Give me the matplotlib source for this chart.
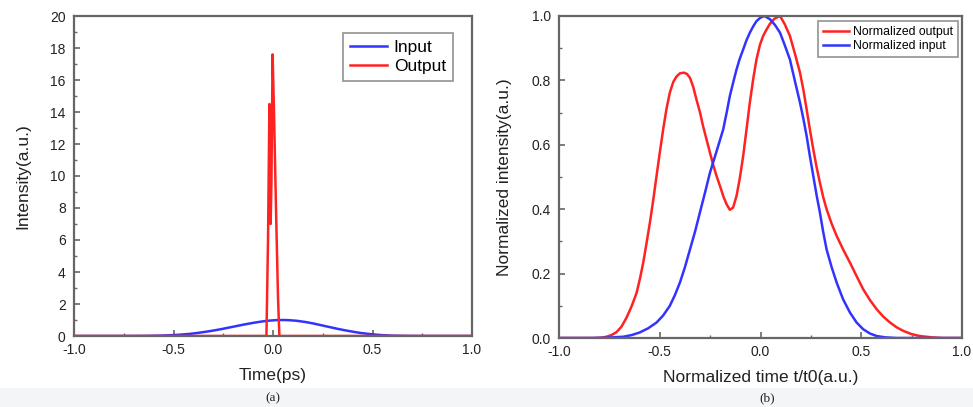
import matplotlib
matplotlib.use("Agg")
import matplotlib.pyplot as plt
from matplotlib.ticker import MultipleLocator
from matplotlib.patches import Rectangle

# ---------------- data ----------------
# Panel (a): input pulse and compressed output (ps, a.u.)
in_t = [-1.0, -0.75, -0.65, -0.58, -0.52, -0.47, -0.42, -0.38, -0.34, -0.30, -0.26,
        -0.22, -0.18, -0.14, -0.10, -0.06, -0.02, 0.02, 0.05, 0.08, 0.12, 0.16,
        0.20, 0.24, 0.28, 0.32, 0.36, 0.40, 0.44, 0.48, 0.52, 0.56, 0.60, 0.66,
        0.75, 1.0]
in_I = [0.0, 0.0, 0.005, 0.02, 0.045, 0.08, 0.13, 0.19, 0.26, 0.34, 0.43,
        0.53, 0.63, 0.73, 0.82, 0.90, 0.96, 0.995, 1.0, 0.99, 0.95, 0.88,
        0.79, 0.68, 0.57, 0.46, 0.36, 0.27, 0.19, 0.13, 0.08, 0.045, 0.022, 0.007,
        0.0, 0.0]

out_t = [-1.0, -0.033, -0.025, -0.018, -0.015, -0.012, -0.008, -0.004, -0.002,
         0.005, 0.015, 0.025, 0.032, 1.0]
out_I = [0.0, 0.0, 6.0, 14.5, 11.0, 7.0, 9.5, 15.0, 17.6,
         14.0, 8.0, 2.5, 0.0, 0.0]

# Panel (b): normalized output / input versus normalized time
nout_t = [-1.0, -0.82, -0.79, -0.764, -0.74, -0.715, -0.69, -0.665, -0.64, -0.615,
          -0.598, -0.582, -0.566, -0.549, -0.532, -0.516, -0.50, -0.483, -0.467,
          -0.45, -0.433, -0.417, -0.40, -0.38, -0.365, -0.35, -0.334, -0.318,
          -0.30, -0.285, -0.268, -0.251, -0.235, -0.218, -0.20, -0.185, -0.168,
          -0.152, -0.136, -0.119, -0.103, -0.086, -0.07, -0.053, -0.036, -0.02,
          -0.003, 0.013, 0.03, 0.046, 0.07, 0.097, 0.12, 0.146, 0.17, 0.196,
          0.213, 0.229, 0.245, 0.262, 0.278, 0.295, 0.311, 0.328, 0.353, 0.378,
          0.41, 0.444, 0.477, 0.51, 0.543, 0.577, 0.61, 0.643, 0.676, 0.709,
          0.75, 0.792, 0.85, 0.907, 1.0]
nout_I = [0.0, 0.0, 0.001, 0.004, 0.009, 0.018, 0.035, 0.063, 0.098, 0.14,
          0.185, 0.234, 0.293, 0.358, 0.43, 0.503, 0.575, 0.648, 0.71,
          0.762, 0.795, 0.812, 0.822, 0.824, 0.82, 0.808, 0.78, 0.741,
          0.70, 0.658, 0.617, 0.576, 0.538, 0.503, 0.47, 0.441, 0.415,
          0.398, 0.405, 0.441, 0.495, 0.565, 0.645, 0.731, 0.805, 0.865,
          0.91, 0.938, 0.958, 0.975, 0.992, 1.0, 0.975, 0.938, 0.885, 0.824,
          0.77, 0.71, 0.648, 0.586, 0.532, 0.482, 0.438, 0.40, 0.355, 0.317,
          0.275, 0.234, 0.192, 0.151, 0.118, 0.089, 0.066, 0.048, 0.033, 0.022,
          0.012, 0.006, 0.002, 0.0, 0.0]

nin_t = [-1.0, -0.847, -0.76, -0.68, -0.64, -0.60, -0.558, -0.516, -0.483, -0.45,
         -0.425, -0.40, -0.375, -0.35, -0.325, -0.301, -0.276, -0.251, -0.218,
         -0.185, -0.168, -0.152, -0.135, -0.119, -0.103, -0.086, -0.07, -0.053,
         -0.036, -0.02, 0.0, 0.02, 0.047, 0.072, 0.097, 0.12, 0.146, 0.17, 0.196,
         0.213, 0.229, 0.245, 0.262, 0.278, 0.295, 0.311, 0.328, 0.353, 0.378,
         0.41, 0.444, 0.477, 0.51, 0.543, 0.577, 0.62, 0.676, 1.0]
nin_I = [0.0, 0.0, 0.001, 0.004, 0.009, 0.017, 0.03, 0.048, 0.07, 0.10,
         0.133, 0.172, 0.22, 0.275, 0.33, 0.389, 0.45, 0.513, 0.58,
         0.648, 0.70, 0.752, 0.795, 0.834, 0.867, 0.896, 0.924, 0.948,
         0.968, 0.984, 0.995, 1.0, 0.99, 0.972, 0.948, 0.91, 0.865, 0.80, 0.731,
         0.68, 0.627, 0.565, 0.503, 0.445, 0.389, 0.33, 0.275, 0.22, 0.172,
         0.12, 0.079, 0.048, 0.027, 0.014, 0.006, 0.002, 0.0, 0.0]

x_ticks = [-1.0, -0.5, 0.0, 0.5, 1.0]

# ---------------- figure ----------------
W, H = 973, 407
fig = plt.figure(figsize=(W / 100, H / 100), dpi=100)
fig.patch.set_facecolor("white")
fig.patches.append(Rectangle((0, 0), 1, (H - 388) / H, transform=fig.transFigure,
                             facecolor="#f3f5f6", edgecolor="none", zorder=0))

plt.rcParams["font.family"] = ["Liberation Sans", "DejaVu Sans"]

def px_axes(x0, y0, x1, y1):
    return fig.add_axes([x0 / W, 1 - y1 / H, (x1 - x0) / W, (y1 - y0) / H])

axA = px_axes(74, 16, 472, 336)
axB = px_axes(559, 16, 962, 338)

spine_col = "#666666"
tick_col = "#222222"

def style(ax, ymaj, ymin):
    for s in ax.spines.values():
        s.set_color(spine_col)
        s.set_linewidth(1.6)
    ax.xaxis.set_major_locator(MultipleLocator(0.5))
    ax.xaxis.set_minor_locator(MultipleLocator(0.25))
    ax.yaxis.set_major_locator(MultipleLocator(ymaj))
    ax.yaxis.set_minor_locator(MultipleLocator(ymin))
    ax.tick_params(which="both", direction="in", colors=spine_col,
                   labelcolor=tick_col, labelsize=10, top=False, right=False)
    ax.tick_params(which="major", length=4, width=1.2)
    ax.tick_params(which="minor", length=2.5, width=1.0)
    ax.tick_params(axis="x", which="major", pad=5)
    ax.tick_params(axis="y", which="major", pad=6)

# Panel (a)
axA.plot(in_t, in_I, color="#3333ff", lw=1.8, label="Input")
axA.plot(out_t, out_I, color="#ff2222", lw=1.8, label="Output")
axA.set_xlim(-1.0, 1.0)
axA.set_ylim(0, 20)
style(axA, 2, 1)
axA.set_xticks(x_ticks)
axA.set_xticklabels([f"{v:.1f}" for v in x_ticks])
axA.set_xlabel("Time(ps)", fontsize=12.5, color="#222222", labelpad=8)
axA.set_ylabel("Intensity(a.u.)", fontsize=12.5, color="#222222", labelpad=14)
legA = axA.legend(loc="upper right", bbox_to_anchor=(0.952, 0.947), fontsize=12.5,
                  frameon=True, fancybox=False, edgecolor="#777777",
                  handlelength=2.1, handletextpad=0.4, borderpad=0.4,
                  labelspacing=0.2, borderaxespad=0.0)
legA.get_frame().set_linewidth(1.2)

# Panel (b)
axB.plot(nout_t, nout_I, color="#ff2222", lw=1.8, label="Normalized output")
axB.plot(nin_t, nin_I, color="#3333ff", lw=1.8, label="Normalized input")
axB.set_xlim(-1.0, 1.0)
axB.set_ylim(0, 1.0)
style(axB, 0.2, 0.1)
axB.set_xticks(x_ticks)
axB.set_xticklabels([f"{v:.1f}" for v in x_ticks])
axB.set_xlabel("Normalized time t/t0(a.u.)", fontsize=12.5, color="#222222", labelpad=8)
axB.set_ylabel("Normalized intensity(a.u.)", fontsize=12.5, color="#222222", labelpad=14)
legB = axB.legend(loc="upper right", bbox_to_anchor=(0.99, 0.984), fontsize=8.8,
                  frameon=True, fancybox=False, edgecolor="#777777",
                  handlelength=2.2, handletextpad=0.3, borderpad=0.4,
                  labelspacing=0.2, borderaxespad=0.0)
legB.get_frame().set_linewidth(1.2)

# captions
fig.text(273 / W, 1 - 398 / H, "(a)", ha="center", va="center",
         fontsize=9.5, family=["Liberation Serif", "DejaVu Serif"], color="#222222")
fig.text(767 / W, 1 - 398 / H, "(b)", ha="center", va="center",
         fontsize=9.5, family=["Liberation Serif", "DejaVu Serif"], color="#222222")

fig.savefig("out.png", dpi=100)
